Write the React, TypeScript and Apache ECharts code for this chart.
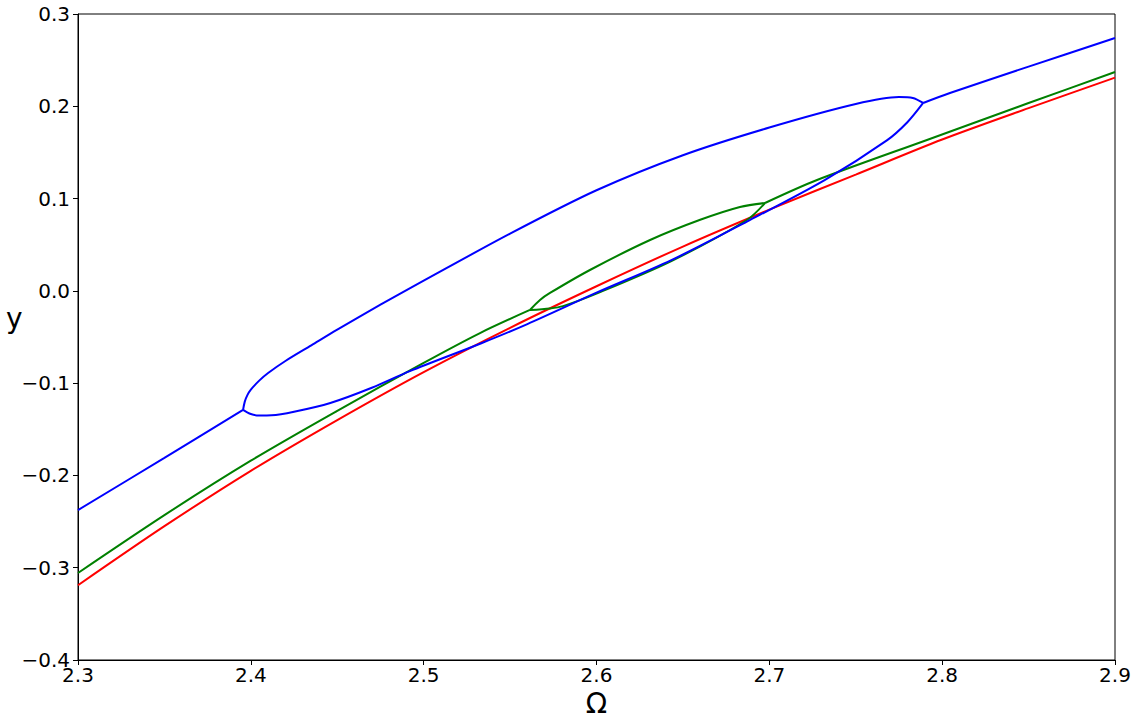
import React, { useEffect, useRef } from "react";
import * as echarts from "echarts";

// Tick values
const xTicks = [2.3, 2.4, 2.5, 2.6, 2.7, 2.8, 2.9];
const yTicks = [-0.4, -0.3, -0.2, -0.1, 0.0, 0.1, 0.2, 0.3];

// Red branch (single)
const redX = [2.3, 2.35, 2.4, 2.45, 2.5, 2.55, 2.6, 2.65, 2.7, 2.75, 2.8, 2.85, 2.9];
const redY = [-0.319, -0.255, -0.195, -0.14, -0.088, -0.04, 0.005, 0.048, 0.088, 0.126, 0.164, 0.198, 0.231];

// Green: main branch before split, upper, lower, after merge
const greenMainX = [2.3, 2.35, 2.4, 2.45, 2.5, 2.5326, 2.5615];
const greenMainY = [-0.3057, -0.243, -0.184, -0.13, -0.078, -0.0457, -0.0207];
const greenUpX = [2.5615, 2.5673, 2.5731, 2.5962, 2.631, 2.66, 2.683, 2.6975];
const greenUpY = [-0.0207, -0.0099, -0.0023, 0.0226, 0.0551, 0.077, 0.0909, 0.0952];
const greenLowX = [2.5615, 2.5731, 2.5806, 2.6, 2.643, 2.687, 2.6975];
const greenLowY = [-0.0207, -0.019, -0.0165, -0.003, 0.032, 0.0768, 0.0952];
const greenAfterX = [2.6975, 2.7276, 2.7912, 2.85, 2.9];
const greenAfterY = [0.0952, 0.1201, 0.1635, 0.2035, 0.2371];

// Blue: main branch before split, upper, lower, after merge
const blueMainX = [2.3, 2.35, 2.3955];
const blueMainY = [-0.2375, -0.181, -0.129];
const blueUpX = [2.3955, 2.3965, 2.398, 2.4, 2.405, 2.41, 2.42, 2.435, 2.45, 2.475, 2.5, 2.55, 2.6, 2.65, 2.7, 2.75, 2.775, 2.783, 2.789];
const blueUpY = [-0.129, -0.12, -0.113, -0.107, -0.097, -0.089, -0.076, -0.059, -0.042, -0.015, 0.011, 0.062, 0.109, 0.147, 0.177, 0.2025, 0.21, 0.209, 0.2036];
const blueLowX = [2.3955, 2.4, 2.405, 2.412, 2.425, 2.446, 2.47, 2.492, 2.533, 2.56, 2.6, 2.643, 2.687, 2.732, 2.768, 2.78, 2.789];
const blueLowY = [-0.129, -0.1335, -0.135, -0.1348, -0.131, -0.1215, -0.105, -0.087, -0.057, -0.036, -0.002, 0.033, 0.075, 0.12, 0.163, 0.183, 0.2036];
const blueAfterX = [2.789, 2.8045, 2.85, 2.9];
const blueAfterY = [0.2036, 0.2144, 0.243, 0.274];

const zip = (xs: number[], ys: number[]) => xs.map((x, i) => [x, ys[i]]);

const fmt = (v: number) => {
  const s = (Math.round(v * 10) / 10).toFixed(1);
  return s.replace("-", "\u2212");
};

export default function App() {
  const ref = useRef<HTMLDivElement>(null);
  useEffect(() => {
    if (!ref.current) return;
    const chart = echarts.init(ref.current, null, { renderer: "svg" });
    const mk = (name: string, data: number[][], color: string) => ({
      name,
      type: "line",
      data,
      showSymbol: false,
      smooth: 0.3,
      lineStyle: { color, width: 2 },
      itemStyle: { color },
      z: 2,
    });
    const font = "DejaVu Sans";
    chart.setOption({
      animation: false,
      backgroundColor: "#ffffff",
      grid: {
        left: 78,
        right: 24,
        top: 14,
        bottom: 65,
        show: true,
        borderColor: "#000",
        borderWidth: 1,
        backgroundColor: "transparent",
        containLabel: false,
        outerBoundsMode: "none",
      },
      graphic: [
        {
          type: "text",
          left: 6,
          top: 304,
          style: { text: "y", fontSize: 28, fill: "#000", fontFamily: font },
        },
      ],
      xAxis: {
        type: "value",
        min: xTicks[0],
        max: xTicks[xTicks.length - 1],
        interval: 0.1,
        name: "\u03a9",
        nameLocation: "middle",
        nameGap: 29,
        nameTextStyle: { fontSize: 28, color: "#000", fontFamily: font },
        axisLine: { show: true, onZero: false, lineStyle: { color: "#000", width: 1 } },
        axisTick: { show: true, length: 5, lineStyle: { color: "#000" } },
        axisLabel: { fontSize: 20, color: "#000", fontFamily: font, margin: 5, formatter: (v: number) => fmt(v) },
        splitLine: { show: false },
      },
      yAxis: {
        type: "value",
        min: yTicks[0],
        max: yTicks[yTicks.length - 1],
        interval: 0.1,
        axisLine: { show: true, onZero: false, lineStyle: { color: "#000", width: 1 } },
        axisTick: { show: true, length: 5, lineStyle: { color: "#000" } },
        axisLabel: { fontSize: 20, color: "#000", fontFamily: font, margin: 8, formatter: (v: number) => fmt(v) },
        splitLine: { show: false },
      },
      series: [
        mk("red", zip(redX, redY), "#ff0000"),
        mk("green-main", zip(greenMainX, greenMainY), "#008000"),
        mk("green-upper", zip(greenUpX, greenUpY), "#008000"),
        mk("green-lower", zip(greenLowX, greenLowY), "#008000"),
        mk("green-after", zip(greenAfterX, greenAfterY), "#008000"),
        mk("blue-main", zip(blueMainX, blueMainY), "#0000ff"),
        mk("blue-upper", zip(blueUpX, blueUpY), "#0000ff"),
        mk("blue-lower", zip(blueLowX, blueLowY), "#0000ff"),
        mk("blue-after", zip(blueAfterX, blueAfterY), "#0000ff"),
      ],
    });
    return () => chart.dispose();
  }, []);
  return (
    <div
      ref={ref}
      style={{ position: "absolute", left: 0, top: 0, width: 1139, height: 725, background: "#fff" }}
    />
  );
}
